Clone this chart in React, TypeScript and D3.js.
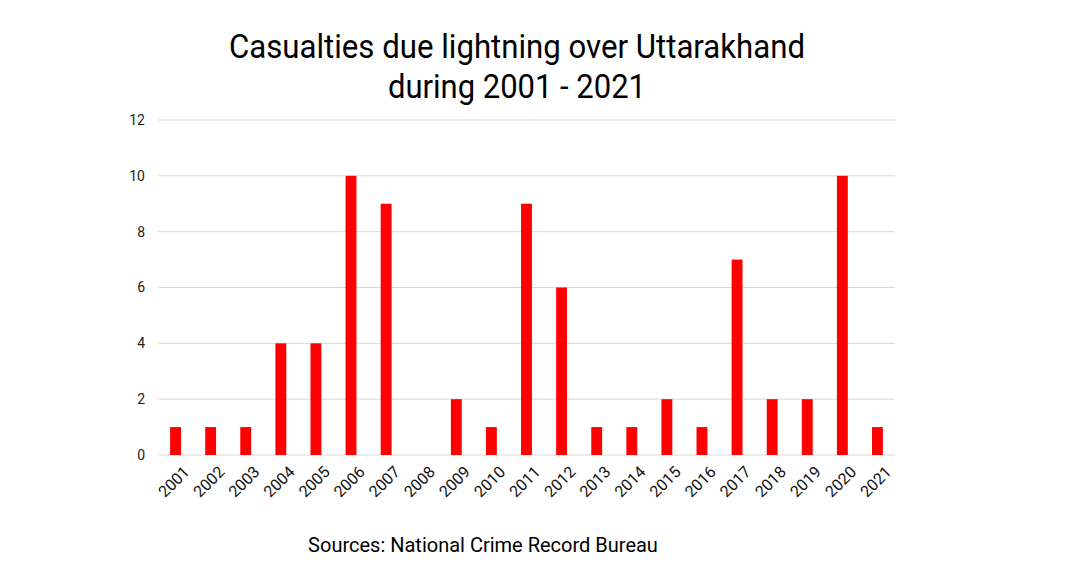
import React from "react";
import * as d3 from "d3";

const years = ["2001","2002","2003","2004","2005","2006","2007","2008","2009","2010","2011","2012","2013","2014","2015","2016","2017","2018","2019","2020","2021"];
const casualties = [1,1,1,4,4,10,9,0,2,1,9,6,1,1,2,1,7,2,2,10,1];
const yTicks = [0,2,4,6,8,10,12];
const titleLines = ["Casualties due lightning over Uttarakhand", "during 2001 - 2021"];
const titleWidths = [576, 258];
const sourceText = "Sources: National Crime Record Bureau";

export default function App() {
  const W = 1080, H = 581;
  const left = 158, right = 895, top = 120, bottom = 455;
  const x = d3.scaleBand().domain(years).range([left, right]).paddingInner(0.69).paddingOuter(0.345);
  const y = d3.scaleLinear().domain([0, 12]).range([bottom, top]);
  const font = "Roboto, 'Noto Sans', sans-serif";
  return (
    <svg width={W} height={H} style={{ position: "absolute", left: 0, top: 0, background: "#fff" }} fontFamily={font}>
      <rect width={W} height={H} fill="#fff" />
      {titleLines.map((t, i) => (
        <text key={i} x={517} y={58 + i * 40} textAnchor="middle" fontSize={34} fill="#000"
          textLength={titleWidths[i]} lengthAdjust="spacingAndGlyphs">{t}</text>
      ))}
      {yTicks.map((t) => (
        <g key={t}>
          <line x1={left} x2={right} y1={y(t)} y2={y(t)} stroke="#d9d9d9" strokeWidth={1} />
          <text x={145} y={y(t)} dy="0.35em" textAnchor="end" fontSize={14} fill="#222">{t}</text>
        </g>
      ))}
      {years.map((yr, i) => (
        <rect key={yr} x={x(yr)} y={y(casualties[i])} width={x.bandwidth()} height={bottom - y(casualties[i])} fill="#ff0000" />
      ))}
      {years.map((yr) => {
        const cx = (x(yr) as number) + x.bandwidth() / 2 + 7;
        const cy = 465;
        return (
          <text key={yr} x={cx} y={cy} textAnchor="end" dy="0.7em" fontSize={16} fill="#111" transform={`rotate(-45 ${cx} ${cy})`}>{yr}</text>
        );
      })}
      <text x={483} y={552} textAnchor="middle" fontSize={20} fill="#000">{sourceText}</text>
    </svg>
  );
}
